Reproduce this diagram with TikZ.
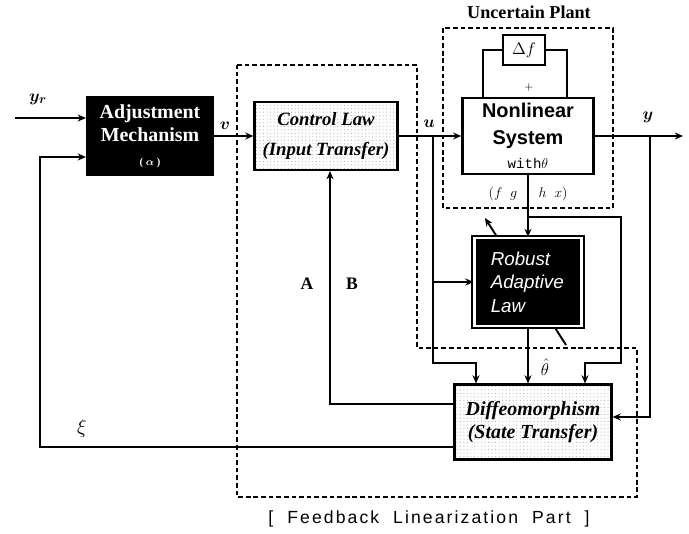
\documentclass[tikz,border=0pt]{standalone}
\usepackage[no-math]{fontspec}
\setmainfont{Liberation Serif}
\setsansfont{Liberation Sans}
\setmonofont{Liberation Mono}
\newfontfamily\widesans[LetterSpace=12]{Liberation Sans}
\usepackage{amsmath, amssymb}
\usetikzlibrary{positioning, arrows.meta, patterns}

\begin{document}
\begin{tikzpicture}[x=0.03cm, y=-0.03cm, >={Stealth[length=7pt, width=6pt]}, line width=1.6pt,
    blk/.style={draw, line width=1.8pt, inner sep=2pt, align=center},
    darkblk/.style={blk, fill=black, text=white},
    dotblk/.style={blk, pattern=dots, pattern color=gray!60},
    region/.style={draw, line width=1.5pt, dash pattern=on 4pt off 2.5pt},
    lbl/.style={inner sep=1pt}]
    \useasboundingbox (0,0) rectangle (689,534);

    % dashed regions
    \draw[region] (237,65) -- (417,65) -- (417,348) -- (637,348) -- (637,497) -- (237,497) -- cycle;
    \draw[region] (443,28) rectangle (613,208);
    \node[font=\bfseries\fontsize{15.5}{15.5}\selectfont] (uptitle) at (529,12) {Uncertain Plant};
    \node[font=\widesans\fontsize{15}{15}\selectfont] (fltitle) at (429,519) {[\ \ Feedback\ \ Linearization\ \ Part\ \ ]};

    % tuning arrow behind the adaptive law
    \draw[->] (566,345) -- (485,218);

    \node[darkblk, minimum width=3.78cm, minimum height=2.34cm,
          font=\bfseries\fontsize{17}{20}\selectfont] (adj) at (150,136)
          {Adjustment\\Mechanism\\{\small( $\boldsymbol{\alpha}$ )}};
    \node[dotblk, minimum width=4.29cm, minimum height=2.04cm,
          font=\bfseries\itshape\fontsize{16}{25}\selectfont] (ctrl) at (326,136)
          {Control Law\\(Input Transfer)};
    \node[blk, fill=white, line width=2.2pt, minimum width=3.93cm, minimum height=2.28cm,
          font=\sffamily\bfseries\fontsize{17}{23}\selectfont] (plant) at (528,136)
          {Nonlinear\\System\\[-3pt]{\ttfamily\mdseries\fontsize{12}{12}\selectfont with$\theta$}};
    \node[blk, fill=white, minimum width=1.26cm, minimum height=0.9cm,
          font=\fontsize{15}{15}\selectfont] (df) at (524,50) {$\Delta f$};
    \node[darkblk, draw=black, double=white, double distance=2pt, line width=2pt,
          minimum width=3.2cm, minimum height=2.63cm, align=left,
          font=\sffamily\itshape\fontsize{16}{20}\selectfont] (ral) at (528,282)
          {Robust\\Adaptive\\Law\hspace*{1.2cm}};
    \node[dotblk, minimum width=4.71cm, minimum height=2.25cm,
          font=\bfseries\itshape\fontsize{17}{20}\selectfont] (diff) at (533,422)
          {Diffeomorphism\\(State Transfer)};

    % reference input and control chain
    \coordinate (yrin) at (15,118);
    \coordinate (yout) at (683,136);
    \draw[->] (yrin) -- (yrin -| adj.west);
    \draw[->] (adj) -- (ctrl);
    \draw[->] (ctrl) -- (plant);
    \draw[->] (plant) -- (yout);

    % uncertainty loop
    \draw ([xshift=-1.35cm]plant.north) |- (df.west);
    \draw (df.east) -| ([xshift=1.17cm]plant.north);
    \node[lbl] (plus) at (529,88) {$+$};

    % plant to adaptive law and diffeomorphism
    \coordinate (fgh) at (528,217);
    \coordinate (fghr) at (621,363);
    \coordinate (dright) at (585,363);
    \draw[->] (plant) -- (ral);
    \draw[->] (fgh) -| (fghr) -- (dright) -- (dright |- diff.north);
    \draw[->] (ral) -- (ral.south |- diff.north);

    % u branch
    \coordinate (ub) at (433,136);
    \coordinate (uleft) at (476,363);
    \draw[->] (ub) |- (uleft) -- (uleft |- diff.north);
    \draw[->] (ub |- ral) -- (ral.west);

    % y branch
    \coordinate (yb) at (650,136);
    \coordinate (ydiff) at (650,417);
    \draw[->] (yb) -- (ydiff) -- (ydiff -| diff.east);

    % feedback to control law
    \coordinate (fbA) at (330,404);
    \draw[->] (diff.west |- fbA) -- (fbA) -- (fbA |- ctrl.south);

    % xi feedback
    \coordinate (xiL) at (40,447);
    \coordinate (xiT) at (40,157);
    \draw[->] (diff.west |- xiL) -- (xiL) -- (xiT) -- (xiT -| adj.west);

    % labels
    \node[lbl, font=\fontsize{15}{15}\selectfont] (yrlbl) at (38,99) {$\boldsymbol{y_r}$};
    \node[lbl, font=\fontsize{15}{15}\selectfont] (vlbl) at (225,126) {$\boldsymbol{v}$};
    \node[lbl, font=\fontsize{15}{15}\selectfont] (ulbl) at (429,124) {$\boldsymbol{u}$};
    \node[lbl, font=\fontsize{15}{15}\selectfont] (ylbl) at (648,117) {$\boldsymbol{y}$};
    \node[lbl, font=\fontsize{13}{13}\selectfont] (fglbl) at (503,194) {$(f\;\; g$};
    \node[lbl, font=\fontsize{13}{13}\selectfont] (hxlbl) at (553,194) {$h\;\; x)$};
    \node[lbl, font=\fontsize{14}{14}\selectfont] (thlbl) at (545,367) {$\hat{\theta}$};
    \node[lbl, font=\bfseries\fontsize{15}{15}\selectfont] (albl) at (307,284) {A};
    \node[lbl, font=\bfseries\fontsize{15}{15}\selectfont] (blbl) at (352,284) {B};
    \node[lbl, font=\fontsize{16}{16}\selectfont] (xilbl) at (82,428) {$\xi$};
\end{tikzpicture}
\end{document}
